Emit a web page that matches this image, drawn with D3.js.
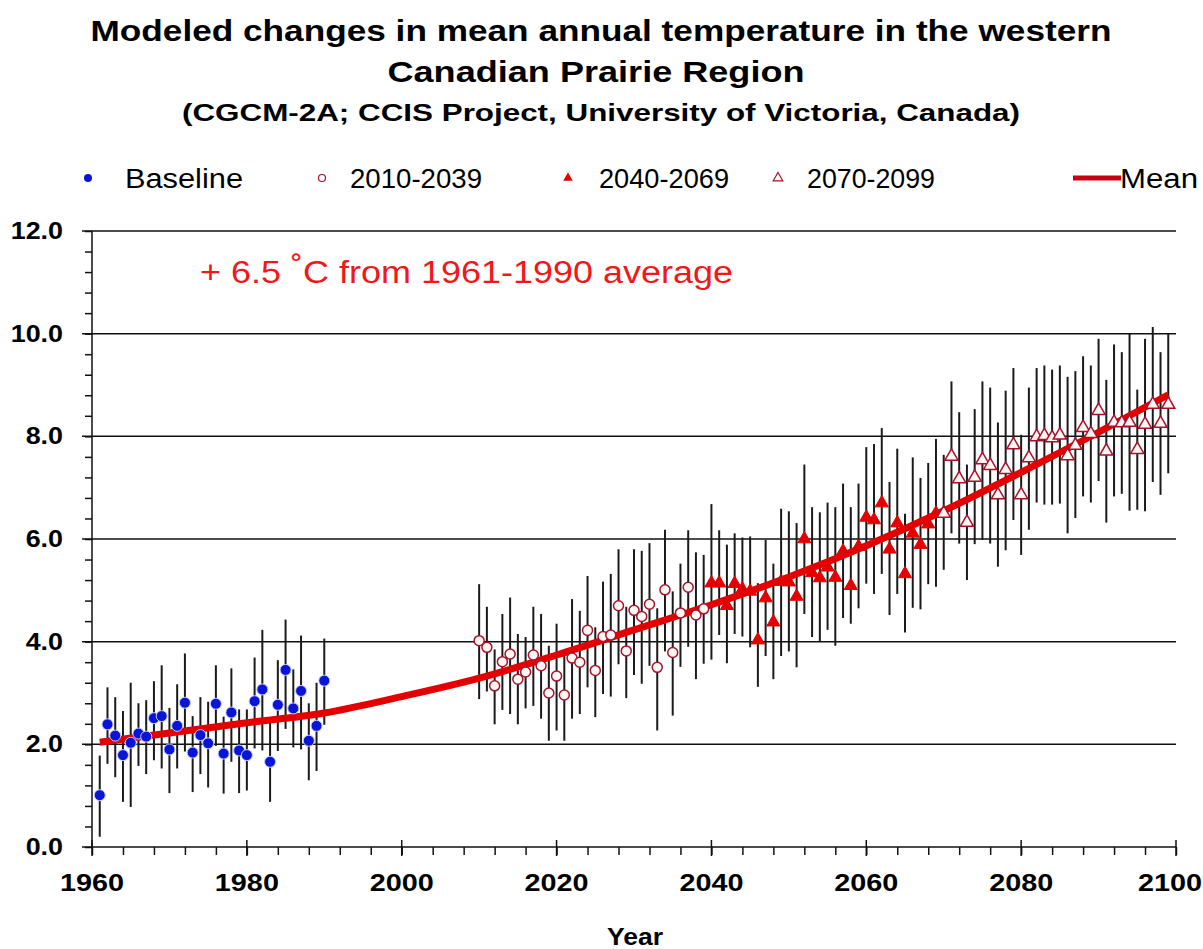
<html>
<head>
  <script src="https://d3js.org/d3.v7.min.js"></script>
  <style>
    body { margin: 0; background: #fff; }
    text { font-family: "Liberation Sans", Arial, sans-serif; }
  </style>
</head>
<body>
  <svg id="chart" width="1203" height="949"></svg>
  <script>
    // period start years (one value per year after that)
    const baseStart = 1961;
    const p1Start = 2010;
    const p2Start = 2040;
    const p3Start = 2070;

    // Baseline 1961-1990
    const baseVal = [1.01,2.39,2.17,1.79,2.03,2.21,2.15,2.51,2.55,1.90,2.36,2.81,1.84,2.18,2.02,2.79,1.82,2.62,1.88,1.79,2.84,3.07,1.66,2.77,3.45,2.70,3.04,2.07,2.36,3.24];
    const baseHi  = [1.78,3.11,2.92,2.65,3.20,2.80,2.86,3.23,3.54,2.71,3.17,3.77,2.55,2.92,2.83,3.54,2.54,3.48,2.68,2.68,3.69,4.23,2.49,3.64,4.43,3.46,4.12,2.80,3.20,4.06];
    const baseLo  = [0.20,1.62,1.36,0.88,0.78,1.58,1.42,1.69,1.53,1.05,1.53,1.86,1.07,1.42,1.16,1.97,1.04,1.66,1.05,1.10,1.92,1.88,0.88,1.87,2.30,1.94,1.90,1.30,1.48,2.38];

    // 2010-2039
    const p1Val = [4.02,3.89,3.14,3.61,3.76,3.27,3.41,3.74,3.53,3.00,3.33,2.96,3.68,3.60,4.22,3.44,4.10,4.13,4.70,3.82,4.61,4.49,4.73,3.50,5.01,3.79,4.56,5.06,4.52,4.64];
    const p1Hi  = [5.12,4.68,3.85,4.54,4.86,4.15,4.09,4.68,4.54,3.92,4.35,3.81,4.83,4.60,5.28,4.28,5.17,5.32,5.80,4.68,5.80,5.77,5.92,4.65,6.18,4.98,5.52,6.17,5.74,5.69];
    const p1Lo  = [2.88,3.03,2.39,2.67,2.59,2.39,2.70,2.75,2.50,2.07,2.27,2.07,2.50,2.59,3.11,2.53,2.98,2.93,3.56,2.90,3.35,3.18,3.53,2.27,3.81,2.56,3.51,3.90,3.27,3.57];

    // 2040-2069
    const p2Val = [5.14,5.14,4.70,5.13,5.02,4.98,4.03,4.85,4.38,5.17,5.16,4.88,6.00,5.34,5.24,5.45,5.25,5.76,5.09,5.85,6.42,6.37,6.70,5.80,6.31,5.32,6.11,5.89,6.29,6.50];
    const p2Hi  = [6.68,6.17,5.89,6.11,6.03,6.05,5.14,5.98,5.52,6.59,6.54,6.31,7.45,6.62,6.52,6.71,6.62,7.08,6.62,7.08,7.79,7.85,8.16,7.11,7.76,6.49,7.59,7.19,7.48,7.95];
    const p2Lo  = [3.65,4.13,3.58,4.15,4.10,3.89,3.12,3.72,3.27,3.72,3.81,3.50,4.54,4.09,4.00,4.23,3.92,4.46,4.35,4.65,5.13,4.93,5.32,4.52,4.93,4.18,4.66,4.63,5.12,5.07];

    // 2070-2099
    const p3Val = [6.50,7.61,7.17,6.32,7.20,7.54,7.43,6.86,7.35,7.83,6.86,7.58,7.99,8.01,7.97,8.02,7.62,7.82,8.17,8.05,8.50,7.71,8.27,8.26,8.27,7.74,8.23,8.62,8.25,8.62];
    const p3Hi  = [7.64,9.07,8.47,7.45,8.53,9.07,8.95,8.27,8.89,9.33,8.03,8.95,9.33,9.38,9.30,9.38,9.16,9.27,9.56,9.38,9.90,9.10,9.79,9.64,10.00,8.91,9.90,10.13,9.64,10.00];
    const p3Lo  = [5.40,6.11,5.91,5.20,5.90,5.98,5.91,5.46,5.78,6.37,5.69,6.18,6.71,6.67,6.67,6.69,6.11,6.41,6.83,6.71,7.13,6.32,6.83,6.88,6.55,6.57,6.54,7.11,6.86,7.28];

    // mean curve, read at decade points
    const meanYears = [1961,1970,1980,1990,2000,2010,2020,2030,2040,2050,2060,2070,2080,2090,2099];
    const meanVals  = [2.04,2.22,2.42,2.61,2.93,3.29,3.74,4.23,4.72,5.26,5.87,6.55,7.30,8.08,8.81];

    const yTicks = [0, 2, 4, 6, 8, 10, 12];
    const xTicks = [1960, 1980, 2000, 2020, 2040, 2060, 2080, 2100];

    const red = "#e40000";
    const darkRed = "#a8102c";
    const blue = "#0814d8";

    const svg = d3.select("#chart");
    const x = d3.scaleLinear().domain([1960, 2100]).range([92, 1176]);
    const y = d3.scaleLinear().domain([0, 12]).range([847, 231]);

    // text stretched to a given width (the original lettering is wide)
    function label(px, py, str, size, len, bold, anchor) {
      return svg.append("text").attr("x", px).attr("y", py)
        .attr("text-anchor", anchor || "start")
        .attr("font-size", size).attr("font-weight", bold ? "bold" : "normal")
        .attr("textLength", len).attr("lengthAdjust", "spacingAndGlyphs")
        .text(str);
    }

    // titles
    label(601, 41, "Modeled changes in mean annual temperature in the western", 30, 1021, true, "middle");
    label(596, 82, "Canadian Prairie Region", 30, 417, true, "middle");
    label(601, 121, "(CGCM-2A; CCIS Project, University of Victoria, Canada)", 24, 838, true, "middle");

    // gridlines
    svg.append("g").selectAll("line").data(yTicks).join("line")
      .attr("x1", 82).attr("x2", 1176)
      .attr("y1", d => y(d)).attr("y2", d => y(d))
      .attr("stroke", "#111").attr("stroke-width", 1.5);

    // y axis
    const yAxis = d3.axisLeft(y).tickValues(d3.range(0, 12.01, 0.4)).tickSize(7).tickFormat("");
    svg.append("g").attr("transform", "translate(92,0)").call(yAxis)
      .call(g => g.selectAll("line,path").attr("stroke", "#111").attr("stroke-width", 1.5))
      .call(g => g.select(".domain").attr("d", `M0,${y(12)}V${y(0)}`));

    svg.append("g").selectAll("text").data(yTicks).join("text")
      .attr("transform", d => `translate(63,${y(d) + 8}) scale(1.12,1)`)
      .attr("text-anchor", "end")
      .attr("font-size", 24).attr("font-weight", "bold")
      .text(d => d3.format(".1f")(d));

    // x axis
    const xMinor = d3.axisBottom(x).tickValues(d3.range(1960, 2101, 4)).tickSize(8).tickFormat("");
    svg.append("g").attr("transform", `translate(0,${y(0)})`).call(xMinor)
      .call(g => g.selectAll("line").attr("stroke", "#111").attr("stroke-width", 1.5))
      .call(g => g.select(".domain").remove());
    svg.append("g").selectAll("line").data(xTicks).join("line")
      .attr("x1", d => x(d)).attr("x2", d => x(d))
      .attr("y1", y(0) - 7).attr("y2", y(0) + 9)
      .attr("stroke", "#111").attr("stroke-width", 1.5);

    // keep the last year label inside the page
    svg.append("g").selectAll("text").data(xTicks).join("text")
      .attr("transform", d => `translate(${Math.min(x(d), 1170)},891) scale(1.2,1)`)
      .attr("text-anchor", "middle")
      .attr("font-size", 24).attr("font-weight", "bold")
      .text(d => d);

    label(635, 945, "Year", 23, 56, true, "middle");

    // annotation
    const note = label(200, 283, null, 31, 533, false).attr("fill", "#f01818");
    note.append("tspan").text("+ 6.5 ");
    note.append("tspan").attr("dy", -4).text("\u02DA");
    note.append("tspan").attr("dy", 4).text("C from 1961-1990 average");

    // build series rows
    function rows(start, val, hi, lo) {
      return val.map((v, i) => ({ year: start + i, v: v, hi: hi[i], lo: lo[i] }));
    }
    const base = rows(baseStart, baseVal, baseHi, baseLo);
    const p1 = rows(p1Start, p1Val, p1Hi, p1Lo);
    const p2 = rows(p2Start, p2Val, p2Hi, p2Lo);
    const p3 = rows(p3Start, p3Val, p3Hi, p3Lo);
    const all = base.concat(p1, p2, p3);

    // error bars
    svg.append("g").selectAll("line").data(all).join("line")
      .attr("x1", d => x(d.year)).attr("x2", d => x(d.year))
      .attr("y1", d => y(d.hi)).attr("y2", d => y(d.lo))
      .attr("stroke", "#1a1a1a").attr("stroke-width", 2);

    // mean line
    const meanData = meanYears.map((yr, i) => [yr, meanVals[i]]);
    svg.append("path").datum(meanData)
      .attr("d", d3.line().x(d => x(d[0])).y(d => y(d[1])).curve(d3.curveMonotoneX))
      .attr("fill", "none").attr("stroke", red).attr("stroke-width", 7);

    const tri = d3.symbol().type(d3.symbolTriangle).size(75);

    svg.append("g").selectAll("circle").data(base).join("circle")
      .attr("cx", d => x(d.year)).attr("cy", d => y(d.v)).attr("r", 5.5)
      .attr("fill", blue).attr("stroke", "#c8ccff").attr("stroke-width", 1);

    svg.append("g").selectAll("circle").data(p1).join("circle")
      .attr("cx", d => x(d.year)).attr("cy", d => y(d.v)).attr("r", 5)
      .attr("fill", "#fff8f4").attr("stroke", darkRed).attr("stroke-width", 1.5);

    svg.append("g").selectAll("path").data(p2).join("path")
      .attr("transform", d => `translate(${x(d.year)},${y(d.v)})`)
      .attr("d", tri).attr("fill", red).attr("stroke", red).attr("stroke-width", 1);

    svg.append("g").selectAll("path").data(p3).join("path")
      .attr("transform", d => `translate(${x(d.year)},${y(d.v)})`)
      .attr("d", tri).attr("fill", "#fff6f4").attr("stroke", darkRed).attr("stroke-width", 1.5);

    // legend
    const ly = 178;
    svg.append("circle").attr("cx", 88).attr("cy", ly).attr("r", 4).attr("fill", blue);
    label(125, ly + 10, "Baseline", 27, 118, false);
    svg.append("circle").attr("cx", 322).attr("cy", ly).attr("r", 3.5)
      .attr("fill", "#fff").attr("stroke", darkRed).attr("stroke-width", 1.2);
    label(350, ly + 10, "2010-2039", 27, 132, false);
    svg.append("path").attr("transform", `translate(568,${ly})`)
      .attr("d", d3.symbol().type(d3.symbolTriangle).size(40)).attr("fill", red);
    label(599, ly + 10, "2040-2069", 27, 130, false);
    svg.append("path").attr("transform", `translate(778,${ly})`)
      .attr("d", d3.symbol().type(d3.symbolTriangle).size(40))
      .attr("fill", "#fff").attr("stroke", darkRed).attr("stroke-width", 1.2);
    label(807, ly + 10, "2070-2099", 27, 128, false);
    svg.append("line").attr("x1", 1073).attr("x2", 1121).attr("y1", ly).attr("y2", ly)
      .attr("stroke", "#c80012").attr("stroke-width", 5);
    label(1120, ly + 10, "Mean", 27, 78, false);
  </script>
</body>
</html>
